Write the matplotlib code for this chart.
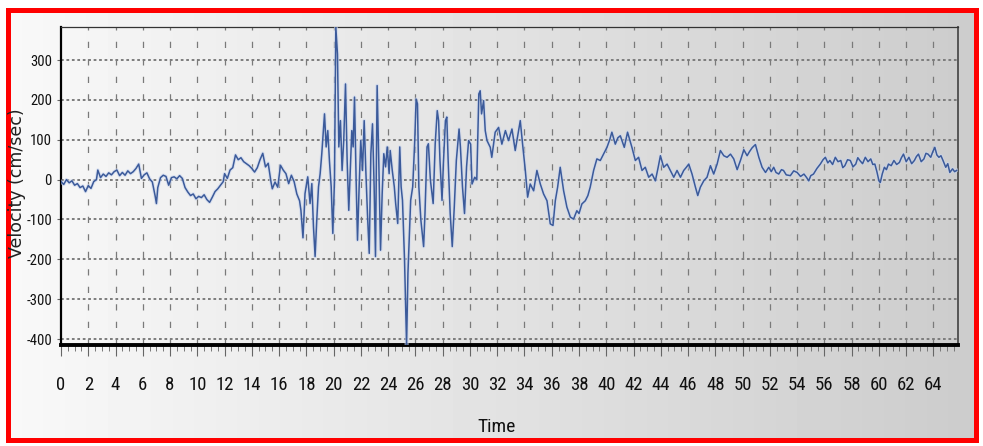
import numpy as np
import matplotlib
matplotlib.use("Agg")
import matplotlib.pyplot as plt
from matplotlib.patches import Rectangle
from matplotlib.ticker import MultipleLocator

# ---- data ----
time_s = [
    0.0, 0.2, 0.4, 0.6, 0.8, 1.0, 1.2, 1.4, 1.6, 1.8, 2.0, 2.2, 2.4, 2.6, 2.7, 2.9,
    3.1, 3.3, 3.5, 3.7, 3.9, 4.1, 4.3, 4.5, 4.7, 4.9, 5.1, 5.3, 5.5, 5.7, 5.9, 6.1,
    6.3, 6.5, 6.7, 6.9, 7.0, 7.1, 7.3, 7.5, 7.7, 7.9, 8.1, 8.3, 8.5, 8.7, 8.9, 9.1,
    9.3, 9.5, 9.7, 9.9, 10.1, 10.3, 10.5, 10.7, 10.9, 11.1, 11.3, 11.5, 11.7, 11.9,
    12.0, 12.2, 12.4, 12.6, 12.8, 13.0, 13.2, 13.4, 13.6, 13.8, 14.0, 14.2, 14.4,
    14.6, 14.8, 15.0, 15.2, 15.4, 15.5, 15.7, 15.9, 16.1, 16.3, 16.5, 16.7, 16.9,
    17.1, 17.3, 17.5, 17.6, 17.75, 17.9,
    18.1, 18.27, 18.4, 18.52, 18.64, 18.76, 18.89, 19.01, 19.13, 19.33, 19.45, 19.57,
    19.69, 19.82, 19.94, 20.06, 20.16, 20.28, 20.38, 20.5, 20.62, 20.74, 20.87, 20.99,
    21.11, 21.21, 21.33, 21.43, 21.53, 21.65, 21.75, 21.87, 21.99, 22.12, 22.24, 22.36,
    22.48, 22.61, 22.73, 22.85, 22.97, 23.07, 23.19, 23.31, 23.44, 23.56, 23.68, 23.81,
    23.93, 24.07, 24.15, 24.3, 24.45, 24.55, 24.7, 24.85, 24.95, 25.05, 25.2, 25.35,
    25.45, 25.55, 25.65, 25.8, 25.95, 26.05, 26.15, 26.25, 26.4, 26.6, 26.7, 26.85,
    26.95, 27.1, 27.3, 27.45, 27.6, 27.7, 27.8, 27.95, 28.05, 28.2, 28.3, 28.4, 28.55,
    28.7, 28.85, 29.0, 29.2, 29.3, 29.45, 29.6, 29.75, 29.9, 30.05, 30.15, 30.35, 30.5,
    30.65, 30.75, 30.85, 31.0, 31.12, 31.25, 31.49, 31.6, 31.85, 32.1, 32.34, 32.6,
    32.83, 33.08, 33.32, 33.5, 33.69, 33.86, 34.06, 34.23, 34.42, 34.67, 34.91, 35.16,
    35.4, 35.65, 35.89, 36.09, 36.26, 36.43, 36.62, 36.87, 37.11, 37.36, 37.6, 37.84,
    38.0, 38.21, 38.46, 38.65, 38.82, 39.07, 39.31, 39.56, 39.8, 40.05, 40.25, 40.41,
    40.66, 40.85, 41.03, 41.32, 41.56, 41.88, 42.13, 42.37, 42.62, 42.86, 43.11, 43.36,
    43.6, 43.8, 43.97, 44.21, 44.46, 44.7, 44.95, 45.19, 45.44, 45.68, 45.85, 46.05,
    46.29, 46.54, 46.71, 46.9, 47.15, 47.39, 47.64, 47.88, 48.13, 48.37, 48.62, 48.86,
    49.11, 49.35, 49.6, 49.84, 50.09, 50.33, 50.5, 50.7, 50.94, 51.19, 51.43, 51.68,
    51.92, 52.1, 52.28, 52.45, 52.65, 52.85, 53.0, 53.2, 53.5, 53.75, 54.0, 54.25,
    54.5, 54.7, 54.85, 55.0, 55.2, 55.45, 55.7, 55.9, 56.07, 56.25, 56.4, 56.6, 56.8,
    57.0, 57.2, 57.35, 57.5, 57.7, 57.9, 58.1, 58.3, 58.45, 58.6, 58.8, 59.0, 59.2,
    59.4, 59.55, 59.7, 59.85, 60.0, 60.1, 60.25, 60.4, 60.55, 60.7, 60.9, 61.1, 61.3,
    61.5, 61.65, 61.8, 62.0, 62.2, 62.4, 62.6, 62.75, 62.9, 63.1, 63.3, 63.45, 63.6,
    63.8, 63.95, 64.1, 64.25, 64.4, 64.55, 64.7, 64.9, 65.05, 65.2, 65.4, 65.55, 65.7,
]
velocity = [
    -5, -12, 0, -8, -3, -14, -10, -20, -16, -30, -15, -22, -5, 0, 24, 5,
    14, 8, 17, 12, 20, 24, 10, 18, 11, 22, 15, 20, 28, 39, 3, 12,
    17, 2, -6, -40, -60, -20, 5, 11, 8, -14, 5, 7, 2, 10, 3, -20,
    -31, -40, -36, -48, -42, -45, -38, -50, -57, -44, -30, -23, -14, -5,
    15, 3, 24, 30, 62, 50, 55, 45, 40, 35, 28, 19, 30,
    50, 66, 32, 41, -5, -23, -6, -19, 36, 24, 15, -10, 11,
    -5, -36, -53, -77, -146, -35,
    7, -60, -10, -118, -193, -102, -18, 15, 65, 165, 82, 123,
    48, -18, -135, -2, 383, 315, 82, 148, 23, 98, 240, 48,
    -77, 15, 123, 82, 207, -2, -152, -18, 98, 23, 148, 23,
    -85, -185, 65, 140, -18, -193, 236, 48, -177, -35, 65, 32,
    82, 15, 73, 23, -18, -60, -110, 82, -18, -52, -202, -415,
    -235, -143, -52, -18, 98, 202, 190, -18, -102, -168, -85, 82,
    90, -2, -60, 90, 173, 148, 48, -52, 40, 148, 157, 48, -85,
    -168, -68, 48, 127, 82, -18, -85, 32, 98, 89, -11, 6, 0,
    215, 223, 165, 198, 123, 98, 81, 56, 119, 131, 89, 123,
    98, 127, 73, 110, 148, 89, 23, -44, -11, -28, 23, -11,
    -36, -53, -111, -115, -53, -19, 31, -28, -69, -94, -99, -78,
    -85, -61, -53, -40, -19, 23, 52, 48, 64, 81, 100, 119,
    89, 105, 110, 81, 119, 81, 48, 56, 23, 31, 6, 14,
    -3, 30, 60, 31, 39, 23, 6, 23, 6, 23, 30, 39,
    14, -19, -40, -19, -3, 6, 35, 14, 39, 73, 60, 56,
    64, 52, 25, 48, 75, 60, 70, 80, 88, 56, 31, 18,
    31, 20, 31, 18, 14, 25, 23, 12, 10, 22, 18, 8,
    14, 5, -3, 10, 14, 28, 39, 50, 56, 42, 48, 38, 56,
    45, 48, 30, 35, 50, 48, 32, 39, 55, 48, 40, 56, 45,
    52, 38, 39, 20, -3, -7, 15, 31, 25, 39, 35, 48, 38,
    43, 55, 64, 45, 56, 40, 48, 58, 64, 45, 52, 66, 64,
    56, 70, 81, 62, 56, 60, 48, 31, 40, 18, 27, 20, 23,
]
x_ticks = list(range(0, 65, 2))
y_ticks = [300, 200, 100, 0, -100, -200, -300, -400]
x_label = "Time"
y_label = "Velocity (cm/sec)"

W, H = 983, 446
fig = plt.figure(figsize=(W / 100, H / 100), dpi=100)
fig.patch.set_facecolor("white")

narrow = ["Liberation Sans Narrow", "Roboto Condensed", "DejaVu Sans Condensed",
          "Open Sans Condensed", "Liberation Sans", "DejaVu Sans"]

# background panel with horizontal gradient and red frame
bg = fig.add_axes([0, 0, 1, 1], zorder=-10)
bg.set_xlim(0, W)
bg.set_ylim(H, 0)
bg.axis("off")
grad = np.linspace(0.975, 0.80, 256)[None, :]
bg.imshow(grad, cmap="gray", vmin=0, vmax=1, extent=(7, 976, 440, 9), aspect="auto",
          interpolation="bilinear")
bg.add_patch(Rectangle((7.5, 9.5), 968, 430, fill=False, edgecolor="#ff0000", linewidth=3.6))

# main plot
left, right, top, bottom = 61, 958, 27, 345
ax = fig.add_axes([left / W, 1 - bottom / H, (right - left) / W, (bottom - top) / H])
ax.set_facecolor("none")
ax.plot(time_s, velocity, color="#c9d5ee", linewidth=2.6, alpha=0.6, zorder=3)
ax.plot(time_s, velocity, color="#3b5a9a", linewidth=1.1, zorder=4)

ax.set_xlim(0, 65.8)
ax.set_ylim(-415, 383)
ax.set_xticks(x_ticks)
ax.set_xticklabels([str(v) for v in x_ticks])
ax.xaxis.set_minor_locator(MultipleLocator(0.5))
ax.set_yticks(y_ticks)
ax.set_yticklabels([str(v) for v in y_ticks])

# grid
for xv in x_ticks[1:]:
    ax.axvline(xv, color="#7a7a7a", linewidth=0.9, dashes=(5, 9), zorder=1)
for yv in y_ticks:
    ax.axhline(yv, color="#7c7c7c", linewidth=1.4, dashes=(1.4, 1.4), zorder=1)

ax.spines["left"].set_linewidth(1.6)
ax.spines["left"].set_color("black")
ax.spines["bottom"].set_linewidth(2.8)
ax.spines["bottom"].set_color("black")
ax.spines["top"].set_linewidth(0.9)
ax.spines["top"].set_color("#333333")
ax.spines["right"].set_linewidth(1.4)
ax.spines["right"].set_color("#555555")

ax.tick_params(axis="x", which="major", direction="out", length=8, width=0.8,
               color="#666666", pad=14, labelsize=13.5, labelcolor="#111111")
ax.tick_params(axis="x", which="minor", direction="out", length=4, width=0.7,
               color="#777777")
ax.tick_params(axis="y", which="major", direction="out", length=3, width=0.8,
               color="#666666", pad=3.5, labelsize=10.5, labelcolor="#111111")
for lab in ax.get_xticklabels() + ax.get_yticklabels():
    lab.set_family(narrow)
    lab.set_stretch("condensed")

ax.set_xlabel(x_label, fontsize=14, family=narrow, fontstretch="condensed",
              color="#111111")
ax.xaxis.set_label_coords((497 - left) / (right - left), -(427 - bottom) / (bottom - top))
ax.xaxis.label.set_va("center")
ax.set_ylabel(y_label, fontsize=12.5, family=["DejaVu Sans"], color="#222222")
ax.yaxis.set_label_coords(-(left - 17.5) / (right - left), (bottom - 183) / (bottom - top))
ax.yaxis.label.set_va("center")

fig.savefig("out.png", dpi=100, facecolor=fig.get_facecolor())
